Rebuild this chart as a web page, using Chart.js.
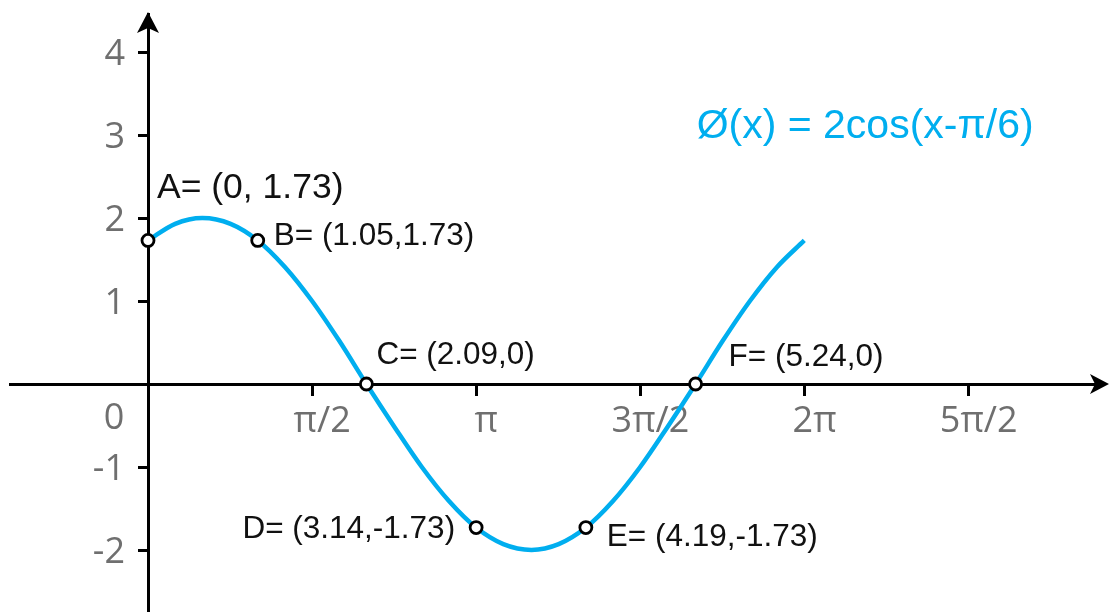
<!DOCTYPE html>
<html>
<head>
<meta charset="utf-8">
<script src="https://cdn.jsdelivr.net/npm/chart.js@4.4.1/dist/chart.umd.min.js"></script>
<style>
  html, body { margin: 0; padding: 0; background: #ffffff; }
  #wrap { width: 1109px; height: 612px; position: relative; }
</style>
</head>
<body>
<div id="wrap"><canvas id="c" width="1109" height="612"></canvas></div>
<script>
// ---- data ----
const curveX = [0, 0.26, 0.52, 0.79, 1.05, 1.31, 1.57, 1.83, 2.09, 2.36, 2.62, 2.88, 3.14,
                3.40, 3.67, 3.93, 4.19, 4.45, 4.71, 4.97, 5.24, 5.50, 5.76, 6.02, 6.28];
const curveY = [1.73, 1.93, 2.00, 1.93, 1.73, 1.41, 1.00, 0.52, 0.00, -0.52, -1.00, -1.41, -1.73,
                -1.93, -2.00, -1.93, -1.73, -1.41, -1.00, -0.52, 0.00, 0.52, 1.00, 1.41, 1.73];
const markedX = [0, 1.05, 2.09, 3.14, 4.19, 5.24];
const markedY = [1.73, 1.73, 0, -1.73, -1.73, 0];
const markedLabels = ['A= (0, 1.73)', 'B= (1.05,1.73)', 'C= (2.09,0)', 'D= (3.14,-1.73)', 'E= (4.19,-1.73)', 'F= (5.24,0)'];
const xTickValues = [Math.PI / 2, Math.PI, 3 * Math.PI / 2, 2 * Math.PI, 5 * Math.PI / 2];
const xTickLabels = ['π/2', 'π', '3π/2', '2π', '5π/2'];
const yTickValues = [-2, -1, 1, 2, 3, 4];
const yTickLabels = ['-2', '-1', '1', '2', '3', '4'];
const originLabel = '0';
const formulaText = 'Ø(x) = 2cos(x-π/6)';

// ---- styling ----
const CURVE_COLOR = '#00aeef';
const TICK_COLOR = '#6f6f6f';
const TICK_FONT_FAMILY = '"Open Sans", "Noto Sans", sans-serif';
const TICK_FONT = { family: TICK_FONT_FAMILY, size: 36, weight: '400' };

const curveData = curveX.map((x, i) => ({ x: x, y: curveY[i] }));
const markedData = markedX.map((x, i) => ({ x: x, y: markedY[i] }));

// label placement (pixels) relative to each marked point
const labelPlacement = [
  { dx: 9, dy: -52, align: 'left', size: 35.5 },
  { dx: 16, dy: -4, align: 'left', size: 31.5 },
  { dx: 10, dy: -29, align: 'left', size: 31.5 },
  { dx: -21, dy: 2, align: 'right', size: 31.5 },
  { dx: 21, dy: 10, align: 'left', size: 31.5 },
  { dx: 33, dy: -27, align: 'left', size: 31.5 }
];

// put the vertical axis on x = 0 (labels to the left of it)
const yAxisPlacer = {
  id: 'yAxisPlacer',
  afterLayout(chart) {
    const ys = chart.scales.y;
    const x0 = chart.scales.x.getPixelForValue(0);
    ys.left = 0;
    ys.right = x0;
    ys.width = x0;
  }
};

const annotPlugin = {
  id: 'annot',
  afterDatasetsDraw(chart) {
    const ctx = chart.ctx;
    const xs = chart.scales.x, ys = chart.scales.y;
    const ca = chart.chartArea;
    const x0 = xs.getPixelForValue(0), y0 = ys.getPixelForValue(0);
    ctx.save();
    // arrow heads
    ctx.fillStyle = '#000';
    ctx.beginPath();
    ctx.moveTo(x0, ca.top - 2);
    ctx.lineTo(x0 - 11, ca.top + 19);
    ctx.lineTo(x0, ca.top + 14);
    ctx.lineTo(x0 + 11, ca.top + 19);
    ctx.closePath();
    ctx.fill();
    ctx.beginPath();
    ctx.moveTo(ca.right + 9, y0);
    ctx.lineTo(ca.right - 10, y0 - 10);
    ctx.lineTo(ca.right - 5, y0);
    ctx.lineTo(ca.right - 10, y0 + 10);
    ctx.closePath();
    ctx.fill();

    // origin label
    ctx.fillStyle = TICK_COLOR;
    ctx.font = '400 36px ' + TICK_FONT_FAMILY;
    ctx.textAlign = 'center';
    ctx.textBaseline = 'middle';
    ctx.fillText(originLabel, x0 - 34, y0 + 35);

    // point labels
    ctx.fillStyle = '#111';
    ctx.textBaseline = 'middle';
    markedData.forEach((p, i) => {
      const px = xs.getPixelForValue(p.x), py = ys.getPixelForValue(p.y);
      const pl = labelPlacement[i];
      ctx.font = pl.size + 'px "Liberation Sans", Arial, sans-serif';
      ctx.textAlign = pl.align;
      ctx.fillText(markedLabels[i], px + pl.dx, py + pl.dy);
    });

    // formula
    ctx.fillStyle = CURVE_COLOR;
    ctx.font = '41px "Liberation Sans", Arial, sans-serif';
    ctx.textAlign = 'left';
    ctx.fillText(formulaText, xs.getPixelForValue(5.25), ys.getPixelForValue(3.1));
    ctx.restore();
  }
};

new Chart(document.getElementById('c'), {
  type: 'scatter',
  data: {
    datasets: [
      {
        label: 'marked',
        data: markedData,
        showLine: false,
        order: 0,
        pointRadius: 6,
        pointBorderWidth: 2.8,
        pointBackgroundColor: '#ffffff',
        pointBorderColor: '#000000',
        pointHoverRadius: 6
      },
      {
        label: 'curve',
        data: curveData,
        showLine: true,
        order: 1,
        borderColor: CURVE_COLOR,
        borderWidth: 4.5,
        pointRadius: 0,
        pointHoverRadius: 0,
        cubicInterpolationMode: 'monotone',
        fill: false
      }
    ]
  },
  options: {
    responsive: false,
    animation: false,
    events: [],
    layout: { autoPadding: false, padding: { left: 10, right: 9, top: 14, bottom: 0 } },
    plugins: { legend: { display: false }, tooltip: { enabled: false }, title: { display: false } },
    scales: {
      x: {
        type: 'linear',
        position: { y: 0 },
        min: (10 - 148) / 104.5,
        max: (1100 - 148) / 104.5,
        afterFit(scale) { scale.height = 0; scale.paddingLeft = 0; scale.paddingRight = 0; },
        afterBuildTicks(scale) { scale.ticks = xTickValues.map(v => ({ value: v })); },
        ticks: {
          autoSkip: false,
          maxRotation: 0,
          color: TICK_COLOR,
          font: TICK_FONT,
          padding: 6,
          labelOffset: 10,
          callback(value, index) { return xTickLabels[index]; }
        },
        grid: { drawOnChartArea: false, drawTicks: true, tickLength: 10, color: '#000', lineWidth: 3 },
        border: { display: true, color: '#000', width: 3 }
      },
      y: {
        type: 'linear',
        position: 'left',
        min: -(612 - 384) / 83,
        max: (384 - 14) / 83,
        afterFit(scale) { scale.width = 0; scale.paddingTop = 0; scale.paddingBottom = 0; },
        afterBuildTicks(scale) { scale.ticks = yTickValues.map(v => ({ value: v })); },
        ticks: {
          autoSkip: false,
          color: TICK_COLOR,
          font: TICK_FONT,
          padding: 13,
          labelOffset: 3,
          callback(value, index) { return yTickLabels[index]; }
        },
        grid: { drawOnChartArea: false, drawTicks: true, tickLength: 10, color: '#000', lineWidth: 3 },
        border: { display: true, color: '#000', width: 3 }
      }
    }
  },
  plugins: [yAxisPlacer, annotPlugin]
});
</script>
</body>
</html>
